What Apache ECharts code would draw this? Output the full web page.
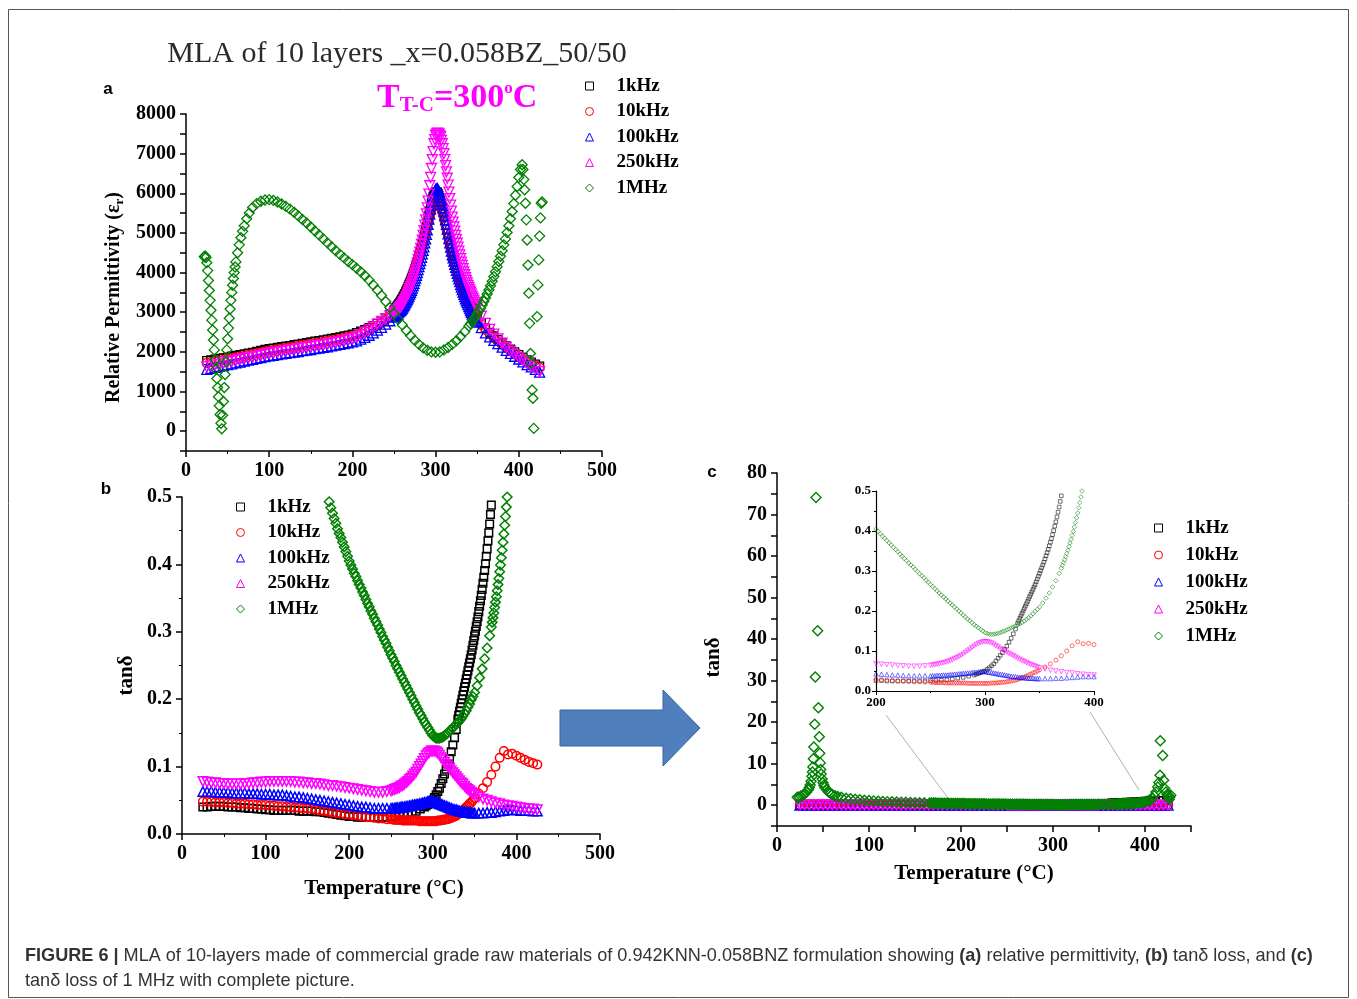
<!DOCTYPE html>
<html><head><meta charset="utf-8">
<script src="https://cdn.jsdelivr.net/npm/echarts@6/dist/echarts.min.js"></script>
<style>html,body{margin:0;padding:0;background:#fff}#c{width:1357px;height:999px}</style>
</head><body><div id="c"></div><script>
// ---------------- DATA ----------------
const NAMES = ['1kHz', '10kHz', '100kHz', '250kHz', '1MHz'];

// shared temperature grid (°C)
const T = [25,30,35,40,45,50,55,60,65,70,75,80,85,90,95,100,105,110,115,120,125,130,135,140,145,150,155,160,165,170,175,180,185,190,195,200,205,210,215,220,225,230,235,240,245,
250,252,254,256,258,260,262,264,266,268,270,272,274,276,278,280,282,284,286,288,290,292,294,296,298,300,302,304,306,308,310,312,314,316,318,320,322,324,326,328,330,332,334,336,338,340,342,344,346,348,350,
355,360,365,370,375,380,385,390,395,400,405,410,415,420,425];
// extra readings at odd temperatures across the permittivity peak (°C)
const TP = [251,253,255,257,259,261,263,265,267,269,271,273,275,277,279,281,283,285,287,289,291,293,295,297,299,301,303,305,307,309,311,313,315,317,319,321,323,325,327,329,331,333,335,337,339,341,343,345,347,349];

// (a) relative permittivity
const E1k = [1780,1800,1815,1835,1850,1870,1890,1910,1930,1950,1970,1990,2015,2035,2060,2080,2095,2110,2130,2145,2160,2180,2195,2215,2230,2250,2270,2285,2305,2320,2340,2360,2380,2405,2425,2450,2485,2520,2560,2610,2660,2720,2785,2860,2950,
3050,3100,3155,3215,3280,3350,3430,3510,3600,3700,3800,3910,4030,4150,4270,4400,4550,4710,4870,5050,5250,5450,5660,5850,5970,6020,6030,5950,5820,5670,5500,5310,5110,4900,4700,4520,4360,4200,4050,3910,3780,3660,3550,3440,3340,3250,3170,3090,3010,2940,2880,
2730,2600,2490,2400,2310,2230,2150,2070,2000,1930,1860,1800,1740,1690,1640];
const E1kP = [3075,3127,3185,3247,3315,3390,3470,3555,3650,3750,3855,3970,4090,4210,4335,4475,4630,4790,4960,5150,5350,5555,5760,5920,6000,6030,6000,5890,5750,5585,5405,5210,5005,4800,4610,4440,4280,4125,3980,3845,3720,3605,3495,3390,3295,3210,3130,3050,2975,2910];
const E10k = [1720,1740,1760,1780,1800,1820,1840,1860,1880,1900,1920,1940,1965,1985,2010,2030,2045,2060,2080,2095,2110,2130,2145,2165,2180,2200,2220,2235,2255,2270,2290,2310,2330,2355,2375,2400,2435,2470,2510,2560,2610,2670,2735,2810,2900,
3000,3050,3105,3165,3230,3300,3380,3460,3550,3650,3750,3860,3980,4100,4220,4350,4500,4660,4820,5000,5180,5350,5530,5700,5800,5850,5850,5790,5680,5540,5380,5200,5010,4810,4620,4430,4280,4130,3990,3850,3720,3600,3490,3390,3290,3200,3120,3040,2960,2890,2830,
2690,2560,2450,2360,2270,2190,2110,2030,1960,1890,1820,1760,1700,1650,1600];
const E10kP = [3025,3078,3135,3197,3265,3340,3420,3505,3600,3700,3805,3920,4040,4160,4285,4425,4580,4740,4910,5090,5265,5440,5615,5750,5825,5855,5820,5735,5610,5460,5290,5105,4910,4715,4525,4355,4205,4060,3920,3785,3660,3545,3440,3340,3245,3160,3080,3000,2925,2860];
const E100k = [1560,1585,1610,1635,1655,1680,1700,1725,1745,1770,1790,1810,1835,1855,1880,1900,1915,1930,1950,1965,1980,1995,2010,2030,2045,2060,2080,2095,2115,2130,2150,2170,2190,2210,2230,2250,2280,2320,2365,2420,2480,2550,2620,2700,2785,
2880,2920,2965,3010,3050,3100,3170,3240,3320,3410,3500,3610,3730,3860,4000,4150,4300,4470,4650,4850,5080,5350,5600,5800,5980,6100,6120,6050,5900,5730,5550,5330,5100,4860,4640,4450,4290,4130,3980,3840,3700,3570,3450,3340,3240,3140,3040,2950,2870,2800,2750,
2610,2480,2380,2290,2210,2120,2040,1960,1890,1820,1750,1680,1620,1560,1490];
const E100kP = [2900,2942,2987,3030,3075,3135,3205,3280,3365,3455,3555,3670,3795,3930,4075,4225,4385,4560,4750,4965,5215,5475,5700,5890,6040,6110,6085,5975,5815,5640,5440,5215,4980,4750,4545,4370,4210,4055,3910,3770,3635,3510,3395,3290,3190,3090,2995,2910,2835,2775];
const E250k = [1620,1645,1670,1690,1715,1740,1760,1785,1805,1830,1850,1870,1895,1915,1940,1960,1980,1995,2015,2030,2050,2065,2080,2100,2115,2130,2150,2165,2185,2200,2220,2240,2260,2285,2305,2330,2380,2430,2490,2560,2630,2700,2770,2840,2910,
2980,3010,3045,3090,3140,3200,3270,3350,3440,3540,3650,3780,3920,4070,4240,4420,4610,4820,5060,5330,5630,5980,6400,6850,7250,7460,7520,7500,7420,7250,7000,6700,6380,6030,5700,5400,5150,4940,4740,4540,4350,4180,4020,3870,3740,3620,3510,3400,3300,3200,3110,
2900,2720,2570,2450,2330,2220,2110,2010,1930,1850,1780,1700,1630,1570,1500];
const E250kP = [2995,3027,3067,3115,3170,3235,3310,3395,3490,3595,3715,3850,3995,4155,4330,4515,4715,4940,5195,5480,5805,6190,6625,7050,7355,7490,7510,7460,7335,7125,6850,6540,6205,5865,5550,5275,5045,4840,4640,4445,4265,4100,3945,3805,3680,3565,3455,3350,3250,3155];
// 1 MHz permittivity: [T, value]
const E1M = [[22,4400],[23,4420],[24,4380],[25,4250],[26,4050],[27,3800],[28,3550],[29,3300],[30,3050],[31,2800],[32,2550],[33,2300],[34,2050],[35,1800],[36,1560],[37,1330],[38,1100],[39,870],[40,640],[41,420],[42,200],[43,60],
[44,400],[45,750],[46,1100],[47,1430],[48,1750],[49,2050],[50,2330],[51,2600],[52,2850],[53,3080],[54,3300],[55,3500],[56,3680],[57,3850],[58,4000],[59,4140],[60,4270],[62,4500],[64,4700],[66,4880],[68,5040],[70,5180],[73,5360],[76,5500],[80,5640],
[85,5740],[90,5800],[95,5830],[100,5840],[105,5820],[110,5780],[115,5730],[120,5670],[125,5600],[130,5520],[135,5430],[140,5340],[145,5250],[150,5150],[155,5050],[160,4950],[165,4850],[170,4750],[175,4650],[180,4550],[185,4460],[190,4370],[195,4280],
[200,4200],[205,4110],[210,4020],[215,3920],[220,3810],[225,3690],[230,3560],[235,3420],[240,3270],[245,3120],[250,2970],[255,2820],[260,2680],[265,2540],[270,2410],[275,2290],[280,2190],[285,2100],[290,2040],[295,2000],[300,1990],[305,2000],
[310,2050],[315,2110],[320,2190],[325,2280],[330,2390],[335,2510],[340,2650],[342,2710],[344,2770],[346,2830],[348,2890],[350,2960],[352,3030],[354,3100],[356,3180],[358,3270],[360,3360],[362,3460],[364,3560],[366,3670],[368,3780],[370,3900],
[372,4020],[374,4150],[376,4280],[378,4410],[380,4550],[382,4700],[384,4850],[386,5010],[388,5180],[390,5360],[392,5540],[394,5740],[396,5950],[398,6170],[400,6400],[402,6600],[404,6720],
[405,6600],[406,6350],[407,6090],[408,5750],[409,5330],[410,4820],[411,4190],[412,3480],[413,2720],[414,1960],[415,1710],[416,1040],[417,830],[418,70],
[422,2890],[423,3690],[424,4320],[425,4920],[426,5380],[427,5750],[428,5780]];

// (b)/(c) tan delta
const D10k = [0.048,0.048,0.048,0.047,0.047,0.047,0.046,0.046,0.045,0.045,0.045,0.044,0.044,0.043,0.043,0.043,0.042,0.042,0.041,0.041,0.040,0.040,0.039,0.039,0.038,0.038,0.037,0.036,0.035,0.034,0.033,0.032,0.031,0.030,0.029,0.029,0.028,0.027,0.026,0.025,0.025,0.024,0.023,0.023,0.022,
0.022,0.022,0.021,0.021,0.021,0.021,0.021,0.020,0.020,0.020,0.020,0.020,0.020,0.020,0.020,0.020,0.020,0.019,0.019,0.019,0.019,0.019,0.019,0.019,0.019,0.019,0.019,0.019,0.020,0.020,0.020,0.021,0.021,0.022,0.022,0.023,0.024,0.025,0.026,0.027,0.029,0.031,0.033,0.035,0.037,0.040,0.042,0.045,0.047,0.050,0.053,
0.060,0.068,0.077,0.088,0.100,0.113,0.123,0.118,0.119,0.116,0.113,0.110,0.107,0.105,0.103];
const D100k = [0.063,0.063,0.063,0.062,0.062,0.062,0.062,0.061,0.061,0.061,0.061,0.060,0.060,0.060,0.059,0.059,0.059,0.058,0.058,0.058,0.057,0.056,0.055,0.055,0.054,0.053,0.052,0.051,0.050,0.049,0.048,0.047,0.046,0.045,0.044,0.043,0.042,0.041,0.040,0.040,0.039,0.038,0.038,0.038,0.038,
0.038,0.038,0.038,0.039,0.039,0.039,0.040,0.040,0.040,0.041,0.041,0.042,0.042,0.043,0.043,0.044,0.044,0.045,0.045,0.046,0.047,0.047,0.048,0.049,0.049,0.049,0.048,0.047,0.046,0.045,0.044,0.043,0.042,0.041,0.040,0.039,0.038,0.037,0.036,0.036,0.035,0.034,0.034,0.033,0.033,0.032,0.032,0.032,0.031,0.031,0.031,
0.031,0.031,0.032,0.032,0.033,0.034,0.035,0.036,0.036,0.036,0.035,0.035,0.035,0.034,0.034];
const D250k = [0.078,0.077,0.076,0.076,0.075,0.075,0.074,0.074,0.074,0.074,0.075,0.075,0.076,0.076,0.077,0.077,0.078,0.078,0.078,0.078,0.078,0.078,0.077,0.077,0.076,0.076,0.075,0.075,0.074,0.073,0.072,0.072,0.071,0.070,0.069,0.068,0.067,0.066,0.065,0.064,0.063,0.062,0.062,0.062,0.063,
0.064,0.065,0.066,0.067,0.068,0.069,0.071,0.072,0.074,0.076,0.078,0.081,0.083,0.086,0.089,0.092,0.096,0.100,0.104,0.108,0.112,0.116,0.119,0.121,0.123,0.123,0.123,0.122,0.120,0.117,0.113,0.110,0.106,0.103,0.100,0.097,0.094,0.091,0.088,0.085,0.082,0.079,0.076,0.074,0.071,0.068,0.066,0.064,0.062,0.060,0.058,
0.055,0.052,0.050,0.048,0.046,0.045,0.043,0.042,0.041,0.040,0.039,0.038,0.037,0.037,0.036];
const D1k = [[25,0.040],[30,0.040],[35,0.041],[40,0.041],[45,0.041],[50,0.041],[55,0.040],[60,0.040],[65,0.040],[70,0.039],[75,0.039],[80,0.038],[85,0.038],[90,0.037],[95,0.037],[100,0.036],[105,0.036],[110,0.035],[115,0.035],[120,0.035],[125,0.035],[130,0.035],[135,0.035],[140,0.034],[145,0.034],[150,0.034],[155,0.034],[160,0.033],[165,0.033],[170,0.032],[175,0.031],[180,0.030],[185,0.029],[190,0.028],[195,0.027],[200,0.026],[205,0.026],[210,0.025],[215,0.025],[220,0.025],[225,0.025],[230,0.025],[235,0.025],[240,0.025],[245,0.025],[250,0.026],[255,0.026],[260,0.027],[265,0.028],[270,0.030],[275,0.032],[280,0.034],[285,0.037],[290,0.040],[292,0.042],[294,0.044],[296,0.046],[298,0.048],[300,0.050],[302,0.054],[304,0.058],[306,0.063],[308,0.068],[310,0.075],[312,0.082],[314,0.089],[316,0.096],[318,0.104],[320,0.112],[322,0.122],[324,0.132],[326,0.143],[328,0.155],
[330,0.170],[331,0.176],[332,0.182],[333,0.188],[334,0.194],[335,0.200],[336,0.206],[337,0.212],[338,0.218],[339,0.224],[340,0.230],[341,0.236],[342,0.242],[343,0.248],[344,0.254],[345,0.260],[346,0.266],[347,0.273],[348,0.280],[349,0.287],[350,0.294],[351,0.301],[352,0.308],[353,0.315],[354,0.322],[355,0.330],[356,0.338],[357,0.346],[358,0.354],[359,0.363],[360,0.372],[361,0.381],[362,0.391],[363,0.401],[364,0.412],[365,0.423],[366,0.435],[367,0.447],[368,0.460],[369,0.474],[370,0.488],[371,0.503],[372,0.52],
[375,0.58],[380,0.67],[385,0.75],[390,0.82],[395,0.88],[400,0.92],[405,0.96],[410,1.0],[415,1.05],[420,1.1],[425,1.12]];
const D1M = [[22,1.9],[24,2.0],[26,2.2],[28,2.4],[30,2.7],[32,3.1],[34,3.7],[35,4.2],[36,4.9],[37,5.8],[38,7.0],[38.5,8.0],[39,9.2],[39.5,11.2],[40,14.0],[41,19.5],[41.6,30.9],[42.4,74.1],[44.2,42.0],[45,23.5],[46,16.5],[46.5,12.5],[47,10.2],[47.5,8.6],[48,7.5],[49,6.3],[50,5.4],[51,4.8],[52,4.3],[54,3.7],[56,3.2],[58,2.9],[60,2.6],[63,2.3],[66,2.1],[70,1.9],[75,1.7],[80,1.55],[85,1.42],[90,1.3],[95,1.2],[100,1.12],[105,1.05],[110,0.98],[115,0.92],[120,0.87],[125,0.82],[130,0.78],[135,0.74],[140,0.70],[145,0.66],[150,0.63],[155,0.60],[160,0.57],
[166,0.540],[168,0.530],[170,0.520],[172,0.511],[174,0.502],[176,0.493],[178,0.484],[180,0.476],[182,0.468],[184,0.461],[186,0.453],[188,0.446],[190,0.440],[192,0.433],[194,0.426],[196,0.419],[198,0.412],[200,0.405],[202,0.399],[204,0.393],[206,0.387],[208,0.382],[210,0.376],[212,0.370],[214,0.365],[216,0.359],[218,0.354],[220,0.348],[222,0.342],[224,0.337],[226,0.331],[228,0.326],[230,0.320],[232,0.315],[234,0.310],[236,0.304],[238,0.299],[240,0.293],[242,0.288],[244,0.283],[246,0.277],[248,0.272],[250,0.266],[252,0.261],[254,0.256],[256,0.250],[258,0.245],[260,0.240],[262,0.235],[264,0.230],[266,0.225],[268,0.220],[270,0.215],[272,0.210],[274,0.205],[276,0.200],[278,0.195],[280,0.190],[282,0.185],[284,0.180],[286,0.176],[288,0.171],[290,0.166],[292,0.162],[294,0.158],[296,0.154],[298,0.150],[300,0.146],[302,0.144],[304,0.142],[306,0.142],[308,0.142],[310,0.143],[312,0.144],[314,0.146],[316,0.148],[318,0.150],[320,0.153],[322,0.155],[324,0.158],[326,0.160],[328,0.163],[330,0.165],[332,0.168],[334,0.171],[336,0.175],[338,0.179],[340,0.183],[342,0.188],[344,0.193],[346,0.199],[348,0.204],[350,0.21],
[353,0.22],[356,0.232],[359,0.245],[362,0.26],[365,0.276],[368,0.294],[370,0.307],[371,0.314],[372,0.321],[373,0.328],[374,0.336],[375,0.344],[376,0.352],[377,0.361],[378,0.37],[379,0.379],[380,0.389],[381,0.399],[382,0.41],[383,0.421],[384,0.433],[385,0.445],[386,0.458],[387,0.471],[388,0.485],[389,0.5],[390,0.515],[392,0.55],[394,0.6],[396,0.66],[398,0.73],[400,0.82],[402,0.94],[404,1.1],[406,1.35],[408,1.7],[410,2.3],[412,3.2],[413.8,4.4],[415,5.5],[416.3,7.2],[416.6,15.5],[419.2,12.0],[420.3,6.0],[421.5,4.0],[422.8,3.2],[424,2.6],[425,2.2],[426.4,1.45],[427,2.0],[428,2.4]];

// ---------------- STYLE ----------------
const SERIF = '"Liberation Serif","Times New Roman",serif';
const SANS = '"Liberation Sans",Arial,sans-serif';
const STY = {
  '1kHz':   {color:'#000000', symbol:'rect',     size:8,  rot:0},
  '10kHz':  {color:'#ff0000', symbol:'circle',   size:9,  rot:0},
  '100kHz': {color:'#0000ff', symbol:'triangle', size:10, rot:0},
  '250kHz': {color:'#ff00ff', symbol:'triangle', size:10, rot:180},
  '1MHz':   {color:'#008000', symbol:'diamond',  size:10, rot:0}
};
const zip = (t, v) => t.map((x, i) => [x, v[i]]);

function sc(name, data, ai, k, alpha, bw) {
  const s = STY[name];
  return {
    type:'scatter', name, data, xAxisIndex:ai, yAxisIndex:ai,
    symbol:s.symbol, symbolSize:s.size*k, symbolRotate:s.rot,
    itemStyle:{color:'rgba(0,0,0,0)', borderColor:s.color, borderWidth:bw, opacity:alpha},
    silent:true, animation:false, clip:true, z:2
  };
}
const panelA = [
  zip(T,E1k).concat(zip(TP,E1kP)),
  zip(T,E10k).concat(zip(TP,E10kP)),
  zip(T,E100k).concat(zip(TP,E100kP)),
  zip(T,E250k).concat(zip(TP,E250kP)),
  E1M
];
const panelB = [D1k, zip(T,D10k), zip(T,D100k), zip(T,D250k), D1M];

const series = [];
NAMES.forEach((n,i)=>series.push(sc(n, panelA[i], 0, 1, 1, 1.3)));
NAMES.forEach((n,i)=>series.push(sc(n, panelB[i], 1, 0.95, 1, 1.5)));
NAMES.forEach((n,i)=>series.push(sc(n, panelB[i], 2, 1, 1, 1.4)));
NAMES.forEach((n,i)=>series.push(sc(n, panelB[i], 3, 0.45, 0.55, 1)));

function ax(o) {
  const big = !o.small;
  return Object.assign({
    type:'value', splitLine:{show:false},
    axisLine:{show:true, onZero:false, lineStyle:{color:'#000', width:big?1.5:1.2}},
    axisTick:{show:true, inside:false, length:big?6:4, lineStyle:{color:'#000', width:big?1.5:1}},
    axisLabel:{fontFamily:SERIF, fontWeight:'bold', fontSize:big?20:13, color:'#000', margin:big?10:5},
    nameTextStyle:{fontFamily:SERIF, fontWeight:'bold', fontSize:21, color:'#000'}
  }, o.extra);
}
const minor = (len) => ({show:true, splitNumber:2, length:len, lineStyle:{color:'#000', width:1}});

const xAxis = [
  ax({extra:{gridIndex:0, min:0, max:500, interval:100, minorTick:minor(3)}}),
  ax({extra:{gridIndex:1, min:0, max:500, interval:100, minorTick:minor(3),
      name:'Temperature (°C)', nameLocation:'middle', nameGap:44}}),
  ax({extra:{gridIndex:2, min:0, max:450, interval:50,
      name:'Temperature (°C)', nameLocation:'middle', nameGap:37}}),
  ax({small:true, extra:{gridIndex:3, min:200, max:400, interval:100, minorTick:minor(2)}})
];
xAxis[2].axisLabel.formatter = v => (v % 100 === 0 ? String(v) : '');
xAxis[1].nameTextStyle.padding = [0, 14, 0, 0];
xAxis[2].nameTextStyle.padding = [0, 20, 0, 0];

const yAxis = [
  ax({extra:{gridIndex:0, min:-500, max:8000, interval:500,
      name:'Relative Permittivity (ε{s|r})', nameLocation:'middle', nameGap:60}}),
  ax({extra:{gridIndex:1, min:0, max:0.5, interval:0.1, minorTick:minor(3),
      name:'tanδ', nameLocation:'middle', nameGap:45}}),
  ax({extra:{gridIndex:2, min:-5, max:80, interval:5,
      name:'tanδ', nameLocation:'middle', nameGap:53}}),
  ax({small:true, extra:{gridIndex:3, min:0, max:0.5, interval:0.1, minorTick:minor(2)}})
];
yAxis[0].axisLabel.formatter = v => (v >= 0 && v % 1000 === 0 ? String(v) : '');
yAxis[1].axisLabel.formatter = v => v.toFixed(1);
yAxis[2].axisLabel.formatter = v => (v >= 0 && v % 10 === 0 ? String(v) : '');
yAxis[3].axisLabel.formatter = v => v.toFixed(1);
yAxis[0].nameTextStyle.fontSize = 20;
yAxis[0].nameTextStyle.padding = [0, 30, 0, 0];
yAxis[0].nameTextStyle.rich = {s:{fontFamily:SERIF, fontWeight:'bold', fontSize:13, color:'#000', padding:[12,0,0,0]}};
yAxis[1].nameTextStyle.padding = [0, 20, 0, 0];
yAxis[2].nameTextStyle.padding = [0, 16, 0, 0];

const legendBase = (left, top, gap) => ({
  data:NAMES, orient:'vertical', left, top, padding:0, itemGap:gap, itemWidth:8, itemHeight:8,
  selectedMode:false, itemStyle:{borderWidth:1},
  textStyle:{fontFamily:SERIF, fontWeight:'bold', fontSize:19, color:'#000', padding:[0,0,0,18], lineHeight:20}
});

const txt = (x, y, text, font, fill, align) => ({
  type:'text', x, y, silent:true,
  style:{text, font, fill, align:align||'left', verticalAlign:'middle'}
});

const graphic = [
  {type:'rect', shape:{x:8.5, y:9.5, width:1340, height:988}, style:{fill:null, stroke:'#555', lineWidth:1}, silent:true},
  txt(397, 54, 'MLA of 10 layers _x=0.058BZ_50/50', '30px ' + SERIF, '#2b2b2b', 'center'),
  {type:'text', x:377, y:98, silent:true, style:{
    text:'{a|T}{b|T-C}{a|=300}{c|o}{a|C}', align:'left', verticalAlign:'middle',
    rich:{
      a:{fontFamily:SERIF, fontWeight:'bold', fontSize:34, fill:'#ff00ff'},
      b:{fontFamily:SERIF, fontWeight:'bold', fontSize:21, fill:'#ff00ff', padding:[16,0,0,0]},
      c:{fontFamily:SERIF, fontWeight:'bold', fontSize:17, fill:'#ff00ff', padding:[0,0,18,0]}
    }}},
  txt(108, 89, 'a', 'bold 17px ' + SANS, '#000', 'center'),
  txt(106, 489, 'b', 'bold 17px ' + SANS, '#000', 'center'),
  txt(712, 472, 'c', 'bold 17px ' + SANS, '#000', 'center'),
  {type:'polygon', silent:true, shape:{points:[[560,710],[663,710],[663,690],[700,728],[663,766],[663,746],[560,746]]},
    style:{fill:'#4f7fbd', stroke:'#3b6597', lineWidth:1}},
  {type:'line', silent:true, shape:{x1:886, y1:715, x2:948, y2:798}, style:{stroke:'#b0b0b0', lineWidth:1}},
  {type:'line', silent:true, shape:{x1:1090, y1:712, x2:1139, y2:790}, style:{stroke:'#b0b0b0', lineWidth:1}},
  {type:'text', x:25, y:956, silent:true, style:{
    text:'{b|FIGURE 6 |} MLA of 10-layers made of commercial grade raw materials of 0.942KNN-0.058BNZ formulation showing {b|(a)} relative permittivity, {b|(b)} tanδ loss, and {b|(c)}',
    font:'18.1px ' + SANS, fill:'#333', align:'left', verticalAlign:'middle',
    rich:{b:{fontFamily:SANS, fontWeight:'bold', fontSize:18.1, fill:'#333'}}}},
  txt(25, 981, 'tanδ loss of 1 MHz with complete picture.', '18.1px ' + SANS, '#333', 'left')
];

const option = {
  backgroundColor:'#fff', animation:false,
  grid:[
    {left:186, top:114, width:416, height:337},
    {left:182, top:497, width:418, height:337},
    {left:777, top:473, width:414, height:353},
    {left:876, top:491, width:218, height:200}
  ],
  xAxis, yAxis, series,
  legend:[legendBase(585, 76, 5.5), legendBase(236, 497, 5.5), legendBase(1154, 518, 7)],
  graphic
};
const chart = echarts.init(document.getElementById('c'), null, {renderer:'canvas'});
chart.setOption(option);
</script></body></html>
